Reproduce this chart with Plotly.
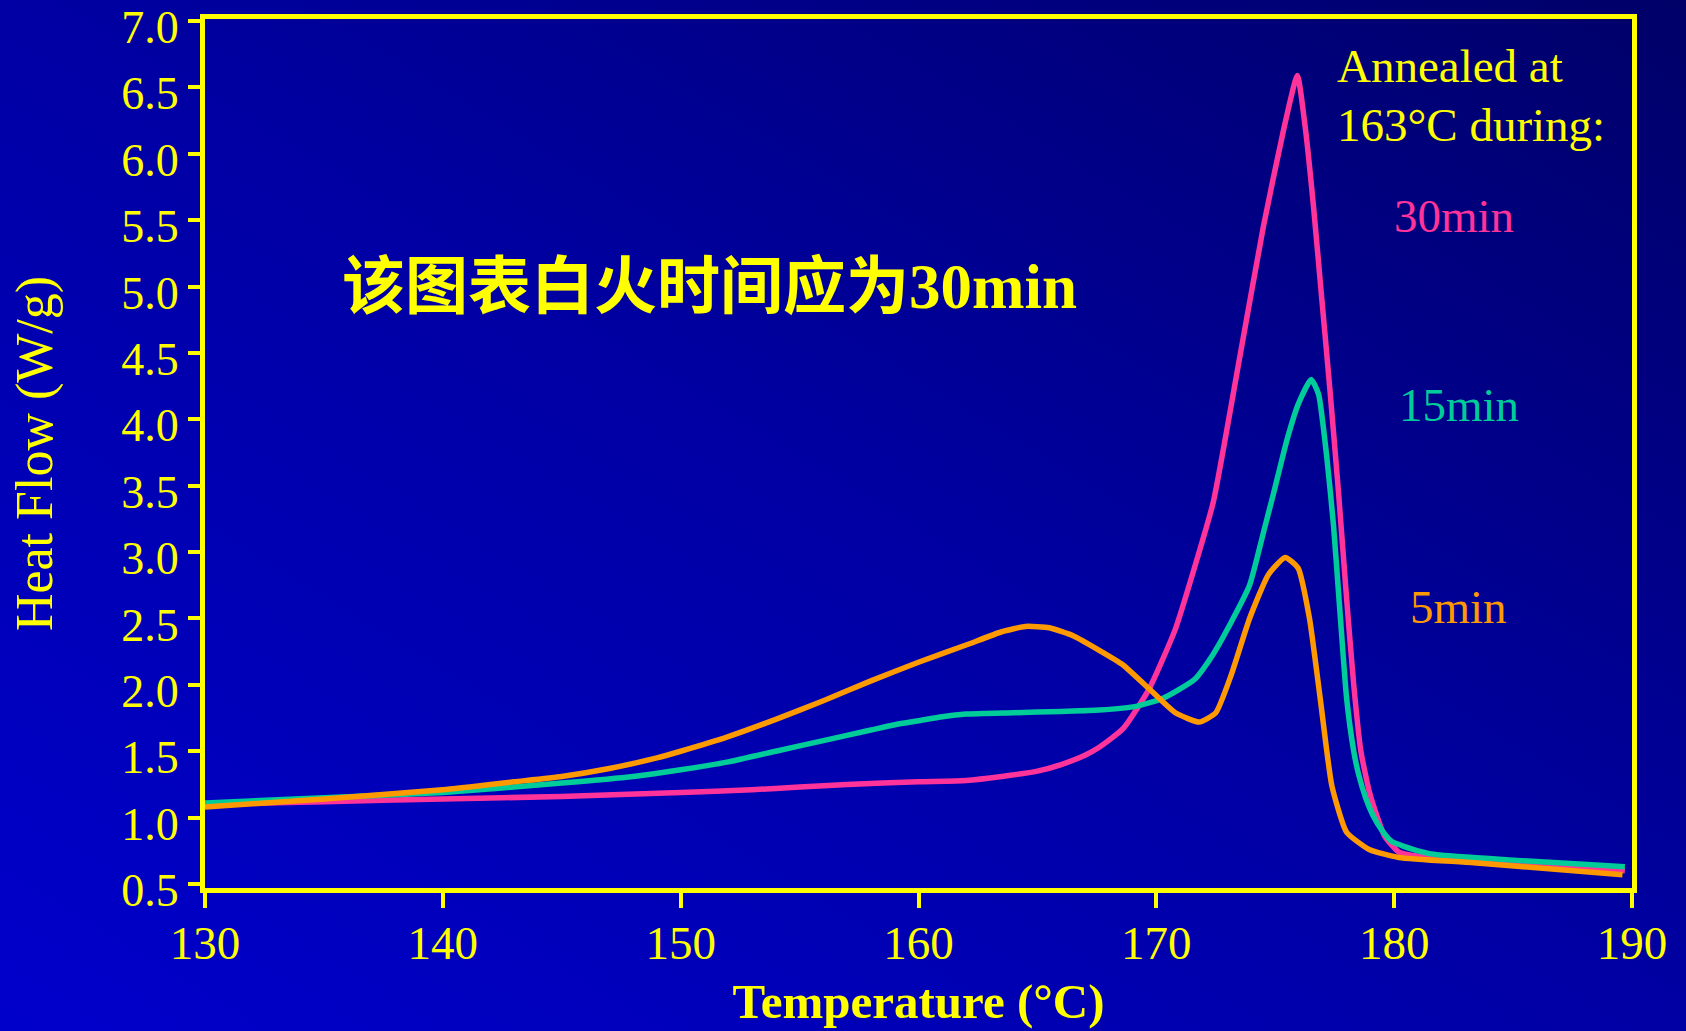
import base64
import plotly.graph_objects as go

# ---------------- data ----------------
t_30min = [130, 135, 140, 145, 150, 153, 155, 157, 160, 162, 163.5, 165, 166, 167,
           167.6, 168.6, 169.7, 170.8, 171.6, 172.4, 173.5, 174.5, 175.35, 175.93,
           176.26, 176.61, 176.96, 177.31, 177.66, 178.0, 178.3, 178.6, 178.95,
           179.3, 179.6, 180.2, 181, 185, 189.7]
hf_30min = [1.10, 1.12, 1.14, 1.16, 1.19, 1.21, 1.23, 1.25, 1.27, 1.28, 1.31, 1.35, 1.40, 1.47,
            1.53, 1.67, 1.97, 2.42, 2.88, 3.38, 4.46, 5.45, 6.18, 6.59,
            6.20, 5.60, 4.90, 4.20, 3.45, 2.65, 2.00, 1.50, 1.20,
            1.00, 0.86, 0.74, 0.71, 0.67, 0.60]

t_15min = [130, 135, 140, 145, 148, 150, 152, 154, 156, 158, 159, 160, 161, 162, 164, 166,
           167.6, 169.2, 170.3, 171.6, 172.35, 173.14, 173.92, 174.55, 174.94, 175.5,
           175.98, 176.51, 176.82, 177.17, 177.45, 177.7, 178.0, 178.3, 178.5, 178.8,
           179.1, 179.5, 179.9, 181, 181.8, 185, 189.7]
hf_15min = [1.11, 1.15, 1.19, 1.26, 1.31, 1.36, 1.42, 1.50, 1.58, 1.66, 1.70, 1.73, 1.76, 1.78, 1.79, 1.80,
            1.81, 1.84, 1.90, 2.04, 2.22, 2.47, 2.75, 3.18, 3.45, 3.85,
            4.12, 4.30, 4.19, 3.71, 3.20, 2.60, 1.90, 1.50, 1.33, 1.15,
            1.02, 0.90, 0.82, 0.75, 0.72, 0.68, 0.63]

t_5min = [130, 135, 140, 143, 145, 147, 149, 150, 152, 154, 156, 158, 160, 162, 163.5,
          164.5, 165.5, 166.5, 167.6, 168.6, 169.7, 170.8, 171.8, 172.5, 173.14, 173.92,
          174.71, 175.42, 175.96, 176.44, 176.91, 177.38, 178.0, 178.95, 180.2, 183.35, 189.6]
hf_5min = [1.08, 1.14, 1.21, 1.27, 1.31, 1.37, 1.45, 1.50, 1.61, 1.74, 1.88, 2.03, 2.17, 2.30, 2.40,
           2.44, 2.43, 2.37, 2.26, 2.15, 1.97, 1.79, 1.72, 1.79, 2.07, 2.50,
           2.83, 2.96, 2.88, 2.50, 1.87, 1.24, 0.89, 0.76, 0.70, 0.66, 0.57]

x_ticks = [130, 140, 150, 160, 170, 180, 190]
y_ticks = [0.5, 1.0, 1.5, 2.0, 2.5, 3.0, 3.5, 4.0, 4.5, 5.0, 5.5, 6.0, 6.5, 7.0]
y_tick_text = ["%.1f" % v for v in y_ticks]

series_names = ["30min", "15min", "5min"]
series_colors = ["#FF3399", "#00CC99", "#FF9900"]

# ---------------- figure ----------------
W, H = 1686, 1031
L, R, T, B = 205, 54, 19, 143
YELLOW = "#FFFF00"
SERIF = "'Liberation Serif', 'Times New Roman', serif"

fig = go.Figure()
for tx, hy, name, col in zip([t_30min, t_15min, t_5min], [hf_30min, hf_15min, hf_5min],
                             series_names, series_colors):
    fig.add_trace(go.Scatter(x=tx, y=hy, mode="lines", name=name,
                             line=dict(color=col, width=5.5, shape="spline", smoothing=0.5),
                             showlegend=False, hoverinfo="skip"))

# gradient background via svg data-uri image
svg = ('<svg xmlns="http://www.w3.org/2000/svg" width="%d" height="%d">'
       '<defs><linearGradient id="g" x1="0" y1="1" x2="1" y2="0">'
       '<stop offset="0" stop-color="#0000CC"/>'
       '<stop offset="0.5" stop-color="#0000A4"/>'
       '<stop offset="1" stop-color="#000068"/>'
       '</linearGradient></defs>'
       '<rect width="100%%" height="100%%" fill="url(#g)"/></svg>') % (W, H)
src = "data:image/svg+xml;base64," + base64.b64encode(svg.encode()).decode()
pw, ph = W - L - R, H - T - B
fig.add_layout_image(dict(source=src, xref="paper", yref="paper",
                          x=-L / pw, y=1 + T / ph, sizex=W / pw, sizey=H / ph,
                          xanchor="left", yanchor="top", sizing="stretch", layer="below"))

fig.update_layout(
    width=W, height=H,
    margin=dict(l=L, r=R, t=T, b=B, autoexpand=False),
    paper_bgcolor="#0000A0",
    plot_bgcolor="rgba(0,0,0,0)",
    font=dict(family=SERIF, color=YELLOW),
)

fig.update_xaxes(
    range=[130, 190], tickvals=x_ticks, ticktext=[str(v) for v in x_ticks],
    showgrid=False, zeroline=False, automargin=False,
    showline=True, linecolor=YELLOW, linewidth=5, mirror=True,
    ticks="outside", tickcolor=YELLOW, tickwidth=4, ticklen=15,
    ticklabelstandoff=-5,
    tickfont=dict(family=SERIF, size=47, color=YELLOW),
    title=dict(text="<b>Temperature (°C)</b>", font=dict(family=SERIF, size=49, color=YELLOW),
               standoff=17),
)
fig.update_yaxes(
    range=[0.47, 7.015], tickvals=y_ticks, ticktext=y_tick_text,
    showgrid=False, zeroline=False, automargin=False,
    showline=True, linecolor=YELLOW, linewidth=5, mirror=True,
    ticks="outside", tickcolor=YELLOW, tickwidth=4, ticklen=12,
    ticklabeloverflow="allow", ticklabelshift=6,
    tickfont=dict(family=SERIF, size=46, color=YELLOW),
    title=dict(text="Heat Flow (W/g)", font=dict(family=SERIF, size=52, color=YELLOW),
               standoff=54),
)

# text annotations
fig.add_annotation(x=177.51, y=6.66, xref="x", yref="y", text="Annealed at",
                   showarrow=False, xanchor="left", yanchor="middle",
                   font=dict(family=SERIF, size=47, color=YELLOW))
fig.add_annotation(x=177.51, y=6.22, xref="x", yref="y", text="163°C during:",
                   showarrow=False, xanchor="left", yanchor="middle",
                   font=dict(family=SERIF, size=47, color=YELLOW))
label_pos = [(182.52, 5.53), (182.73, 4.11), (182.69, 2.59)]
for (lx, ly), name, col in zip(label_pos, series_names, series_colors):
    fig.add_annotation(x=lx, y=ly, xref="x", yref="y", text=name, showarrow=False,
                       xanchor="center", yanchor="middle",
                       font=dict(family=SERIF, size=47, color=col))
fig.add_annotation(x=151.23, y=5.0, xref="x", yref="y",
                   text="<b>该图表白火时间应为30min</b>", showarrow=False,
                   xanchor="center", yanchor="middle",
                   font=dict(family="'Liberation Serif', 'Noto Sans CJK SC', serif", size=63,
                             color=YELLOW))

fig.write_html("out.html")
